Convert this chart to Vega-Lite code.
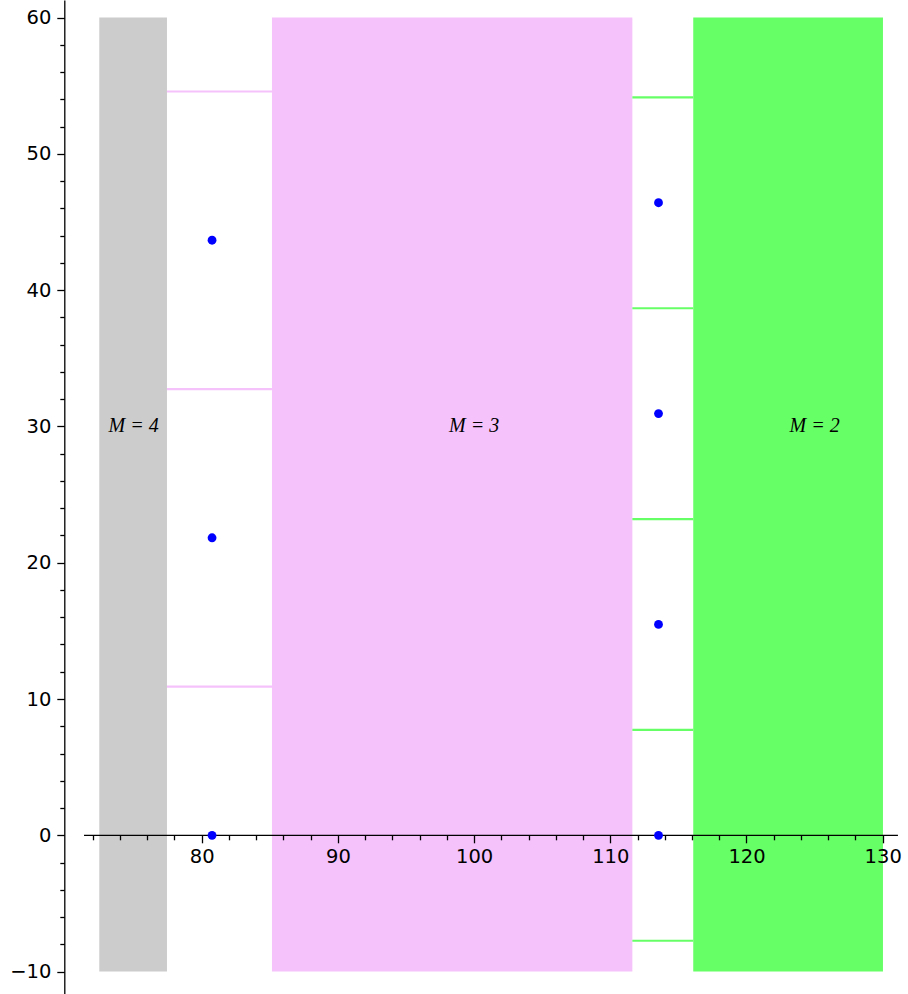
{
  "$schema": "https://vega.github.io/schema/vega-lite/v6.json",
  "width": 908,
  "height": 994,
  "autosize": {"type": "none"},
  "padding": 0,
  "background": "white",
  "config": {"view": {"stroke": null}},
  "encoding": {
    "x": {
      "field": "x",
      "type": "quantitative",
      "scale": {"domain": [65.191, 131.858], "nice": false, "zero": false},
      "axis": {
        "orient": "bottom",
        "offset": -158.7,
        "values": [72, 74, 76, 78, 80, 82, 84, 86, 88, 90, 92, 94, 96, 98, 100, 102, 104, 106, 108, 110, 112, 114, 116, 118, 120, 122, 124, 126, 128, 130],
        "domain": false,
        "grid": false,
        "title": null,
        "labelExpr": "datum.value % 10 === 0 ? datum.label : ''",
        "tickSize": {"condition": {"test": "datum.value % 10 === 0", "value": 7.5}, "value": 4.5},
        "tickColor": "black",
        "tickWidth": 1.3,
        "labelFont": "DejaVu Sans",
        "labelFontSize": 19.5,
        "labelColor": "black",
        "labelPadding": 5,
        "labelOverlap": false,
        "labelBound": false,
        "labelFlush": false,
        "zindex": 1
      }
    },
    "y": {
      "field": "y",
      "type": "quantitative",
      "scale": {"domain": [-11.643, 61.284], "nice": false, "zero": false},
      "axis": {
        "orient": "left",
        "offset": -64.3,
        "values": [-10, -8, -6, -4, -2, 0, 2, 4, 6, 8, 10, 12, 14, 16, 18, 20, 22, 24, 26, 28, 30, 32, 34, 36, 38, 40, 42, 44, 46, 48, 50, 52, 54, 56, 58, 60],
        "domain": true,
        "domainColor": "black",
        "domainWidth": 1.3,
        "grid": false,
        "title": null,
        "labelExpr": "datum.value % 10 === 0 ? datum.label : ''",
        "tickSize": {"condition": {"test": "datum.value % 10 === 0", "value": 7.5}, "value": 4.5},
        "tickColor": "black",
        "tickWidth": 1.3,
        "labelFont": "DejaVu Sans",
        "labelFontSize": 19.5,
        "labelColor": "black",
        "labelPadding": 6,
        "labelOverlap": false,
        "labelBound": false,
        "labelFlush": false,
        "zindex": 1
      }
    }
  },
  "layer": [
    {
      "data": {"values": [{"x": 72.48, "x2": 77.45, "y": -10, "y2": 60}]},
      "mark": {"type": "rect", "color": "#cccccc"},
      "encoding": {"x2": {"field": "x2"}, "y2": {"field": "y2"}}
    },
    {
      "data": {"values": [{"x": 85.16, "x2": 111.62, "y": -10, "y2": 60}]},
      "mark": {"type": "rect", "color": "#f6c2fc"},
      "encoding": {"x2": {"field": "x2"}, "y2": {"field": "y2"}}
    },
    {
      "data": {"values": [{"x": 116.09, "x2": 130.02, "y": -10, "y2": 60}]},
      "mark": {"type": "rect", "color": "#66ff66"},
      "encoding": {"x2": {"field": "x2"}, "y2": {"field": "y2"}}
    },
    {
      "data": {"values": [
        {"x": 77.45, "x2": 85.16, "y": 10.91},
        {"x": 77.45, "x2": 85.16, "y": 32.74},
        {"x": 77.45, "x2": 85.16, "y": 54.57}
      ]},
      "mark": {"type": "rule", "color": "#f6c2fc", "strokeWidth": 2.2},
      "encoding": {"x2": {"field": "x2"}}
    },
    {
      "data": {"values": [
        {"x": 111.62, "x2": 116.09, "y": -7.735},
        {"x": 111.62, "x2": 116.09, "y": 7.735},
        {"x": 111.62, "x2": 116.09, "y": 23.2},
        {"x": 111.62, "x2": 116.09, "y": 38.67},
        {"x": 111.62, "x2": 116.09, "y": 54.14}
      ]},
      "mark": {"type": "rule", "color": "#66ff66", "strokeWidth": 2.2},
      "encoding": {"x2": {"field": "x2"}}
    },
    {
      "data": {"values": [{"x": 71.36, "x2": 131.12, "y": 0}]},
      "mark": {"type": "rule", "color": "black", "strokeWidth": 1.3},
      "encoding": {"x2": {"field": "x2"}}
    },
    {
      "data": {"values": [
        {"x": 80.76, "y": 0},
        {"x": 80.76, "y": 21.83},
        {"x": 80.76, "y": 43.66},
        {"x": 113.54, "y": 0},
        {"x": 113.54, "y": 15.47},
        {"x": 113.54, "y": 30.94},
        {"x": 113.54, "y": 46.41}
      ]},
      "mark": {"type": "circle", "color": "#0000ff", "opacity": 1, "size": 78}
    },
    {
      "data": {"values": [
        {"x": 75, "y": 30, "t": "M = 4"},
        {"x": 100, "y": 30, "t": "M = 3"},
        {"x": 125, "y": 30, "t": "M = 2"}
      ]},
      "mark": {"type": "text", "font": "Liberation Serif", "fontStyle": "italic", "fontSize": 20, "color": "black", "align": "center", "baseline": "middle"},
      "encoding": {"text": {"field": "t"}}
    }
  ]
}
